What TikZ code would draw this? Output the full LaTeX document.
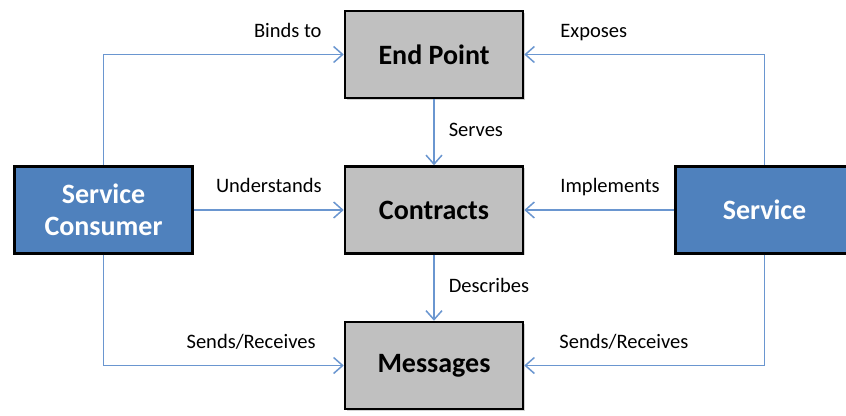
\documentclass[tikz,border=0pt]{standalone}
\usepackage{fontspec}
\setmainfont{Carlito}
\usepackage{xcolor}
\definecolor{soaBlue}{RGB}{79,129,189}
\definecolor{soaLine}{RGB}{106,150,208}
\definecolor{soaGray}{RGB}{192,192,192}
\usetikzlibrary{positioning,arrows.meta,shadows}
\tikzset{
  ebox/.style={rectangle,draw=black,line width=2.5pt,fill=soaGray,
    minimum width=178pt,minimum height=87pt,align=center,
    font=\fontsize{28}{32}\selectfont\bfseries,
    drop shadow={shadow xshift=2pt,shadow yshift=-2pt,opacity=0.35}},
  abox/.style={ebox,fill=soaBlue,text=white},
  arrow/.style={-{Straight Barb[length=9pt,width=16pt]},draw=soaLine,line width=1.5pt},
  lbl/.style={font=\fontsize{20.5}{24}\selectfont,inner sep=0pt,text depth=4pt}
}
\begin{document}
\begin{tikzpicture}[node distance=66pt and 150pt]
  \useasboundingbox (-434pt,210pt) rectangle (412pt,-205pt);
  % boxes
  \node[ebox] (contracts) {Contracts};
  \node[ebox, above=of contracts] (endpoint) {End Point};
  \node[ebox, below=of contracts] (messages) {Messages};
  \node[abox, left=of contracts] (consumer) {Service\\Consumer};
  \node[abox, right=of contracts] (service) {Service};
  % connectors
  \draw[arrow] (consumer.north) |- (endpoint.west);
  \draw[arrow] (service.north) |- (endpoint.east);
  \draw[arrow] (endpoint.south) -- node[lbl, right=14pt] (serves) {Serves} (contracts.north);
  \draw[arrow] (consumer.east) -- (contracts.west);
  \draw[arrow] (service.west) -- (contracts.east);
  \draw[arrow] (contracts.south) -- node[lbl, right=14pt] (describes) {Describes} (messages.north);
  \draw[arrow] (consumer.south) |- (messages.west);
  \draw[arrow] (service.south) |- (messages.east);
  % labels
  \node[lbl, above left=13pt and 22pt of endpoint.west] (bindsto) {Binds to};
  \node[lbl, above right=13pt and 36pt of endpoint.east] (exposes) {Exposes};
  \node[lbl, above left=13pt and 22pt of contracts.west] (understands) {Understands};
  \node[lbl, above right=13pt and 36pt of contracts.east] (implements) {Implements};
  \node[lbl, above left=13pt and 28pt of messages.west] (sendsleft) {Sends/Receives};
  \node[lbl, above right=13pt and 35pt of messages.east] (sendsright) {Sends/Receives};
\end{tikzpicture}
\end{document}
